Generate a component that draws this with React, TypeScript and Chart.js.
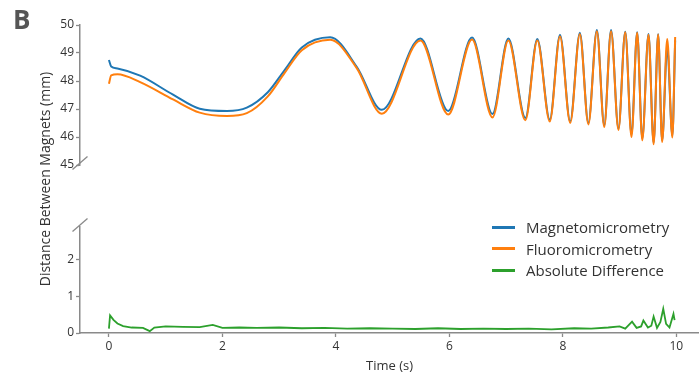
import React, { useEffect, useRef } from "react";
import { Chart, registerables } from "chart.js";

Chart.register(...registerables);

// ---- data ----
const TIME = [
  0, 0.04, 0.15, 0.55, 1.13, 1.6, 2.08, 2.43, 2.8, 3.1, 3.4, 3.9, 4.37, 4.81,
  5.49, 5.98, 6.4, 6.76, 7.04, 7.34, 7.55, 7.77, 7.95, 8.13, 8.3, 8.45, 8.6,
  8.73, 8.85, 8.98, 9.1, 9.21, 9.31, 9.4, 9.51, 9.6, 9.68, 9.75, 9.84, 9.93, 9.98,
];
const MAGNETO = [
  48.75, 48.52, 48.45, 48.19, 47.51, 47.01, 46.93, 47.05, 47.6, 48.4, 49.2,
  49.56, 48.5, 46.97, 49.52, 46.93, 49.55, 46.82, 49.52, 46.68, 49.5, 46.62,
  49.65, 46.56, 49.72, 46.5, 49.82, 46.42, 49.82, 46.3, 49.76, 46.1, 49.74,
  45.95, 49.68, 45.8, 49.67, 45.88, 49.2, 46.05, 49.45,
];
const FLUORO = [
  47.9, 48.2, 48.24, 47.96, 47.34, 46.87, 46.75, 46.85, 47.45, 48.3, 49.1,
  49.47, 48.45, 46.83, 49.45, 46.8, 49.48, 46.7, 49.45, 46.6, 49.45, 46.55,
  49.6, 46.5, 49.68, 46.45, 49.78, 46.36, 49.78, 46.25, 49.74, 46.0, 49.72,
  45.88, 49.65, 45.74, 49.66, 45.82, 49.5, 45.98, 49.57,
];
const DIFF_TIME = [
  0, 0.02, 0.08, 0.15, 0.25, 0.4, 0.6, 0.72, 0.8, 1.0, 1.3, 1.6, 1.83, 2.0,
  2.3, 2.6, 3.0, 3.4, 3.8, 4.2, 4.6, 5.0, 5.4, 5.8, 6.2, 6.6, 7.0, 7.4, 7.8,
  8.2, 8.5, 8.8, 9.0, 9.1, 9.22, 9.3, 9.38, 9.42, 9.5, 9.56, 9.6, 9.66, 9.72,
  9.77, 9.82, 9.88, 9.95, 9.97,
];
const DIFF = [
  0.12, 0.48, 0.36, 0.26, 0.19, 0.15, 0.14, 0.05, 0.15, 0.18, 0.17, 0.16,
  0.22, 0.14, 0.15, 0.14, 0.15, 0.13, 0.14, 0.12, 0.13, 0.12, 0.11, 0.13,
  0.11, 0.12, 0.11, 0.12, 0.1, 0.13, 0.12, 0.15, 0.18, 0.12, 0.31, 0.14,
  0.18, 0.34, 0.15, 0.2, 0.45, 0.14, 0.3, 0.66, 0.25, 0.15, 0.52, 0.35,
];
const X_TICKS = [0, 2, 4, 6, 8, 10];
const TOP_TICKS = [45, 46, 47, 48, 49, 50];
const BOTTOM_TICKS = [0, 1, 2];
const SERIES_NAMES = ["Magnetomicrometry", "Fluoromicrometry", "Absolute Difference"];
const COLORS = ["#1f77b4", "#ff7f0e", "#2ca02c"];
const X_TITLE = "Time (s)";
const Y_TITLE = "Distance Between Magnets (mm)";
const PANEL = "B";

const AXIS = "#8a8a8a";
const TEXT = "#333333";
const FONT = "'Open Sans', 'DejaVu Sans', sans-serif";

const breakMark = (edge: "top" | "bottom", dy: number) => ({
  id: "breakMark" + edge,
  afterDraw(chart: any) {
    const { ctx, chartArea } = chart;
    const x = chartArea.left;
    const y = (edge === "bottom" ? chartArea.bottom : chartArea.top) + dy;
    ctx.save();
    ctx.strokeStyle = AXIS;
    ctx.lineWidth = 1.3;
    ctx.beginPath();
    ctx.moveTo(x - 7.5, y + 6.5);
    ctx.lineTo(x + 7.5, y - 6.5);
    ctx.stroke();
    ctx.restore();
  },
});

const xScale = (show: boolean) => ({
  type: "linear" as const,
  min: -0.51,
  max: 10.4,
  display: show,
  afterBuildTicks: (s: any) => {
    s.ticks = X_TICKS.map((v) => ({ value: v }));
  },
  afterFit: (s: any) => {
    s.height = 44;
  },
  ticks: {
    autoSkip: false,
    maxRotation: 0,
    padding: 2,
    color: TEXT,
    font: { family: FONT, size: 12 },
  },
  grid: { display: true, drawOnChartArea: false, drawTicks: true, tickLength: 4, tickColor: AXIS, tickWidth: 1.3 },
  border: { display: true, color: AXIS, width: 1.5 },
  title: {
    display: true,
    text: X_TITLE,
    color: TEXT,
    font: { family: FONT, size: 13 },
    padding: { top: 0, bottom: 3 },
  },
});

const yScale = (min: number, max: number, ticks: number[]) => ({
  type: "linear" as const,
  min,
  max,
  afterBuildTicks: (s: any) => {
    s.ticks = ticks.map((v) => ({ value: v }));
  },
  afterFit: (s: any) => {
    s.width = 80;
  },
  ticks: { padding: 2, color: TEXT, font: { family: FONT, size: 12 } },
  grid: { display: true, drawOnChartArea: false, drawTicks: true, tickLength: 4, tickColor: AXIS, tickWidth: 1.3 },
  border: { display: true, color: AXIS, width: 1.5 },
});

export default function App() {
  const topRef = useRef<HTMLCanvasElement>(null);
  const botRef = useRef<HTMLCanvasElement>(null);

  useEffect(() => {
    const top = new Chart(topRef.current!, {
      type: "line",
      data: {
        datasets: [
          {
            label: SERIES_NAMES[0],
            data: TIME.map((t, i) => ({ x: t, y: MAGNETO[i] })),
            borderColor: COLORS[0],
            borderWidth: 2,
            pointRadius: 0,
            cubicInterpolationMode: "monotone",
            fill: false,
            order: 1,
          },
          {
            label: SERIES_NAMES[1],
            data: TIME.map((t, i) => ({ x: t, y: FLUORO[i] })),
            borderColor: COLORS[1],
            borderWidth: 2,
            pointRadius: 0,
            cubicInterpolationMode: "monotone",
            fill: false,
            order: 0,
          },
        ],
      },
      options: {
        responsive: false,
        animation: false,
        devicePixelRatio: 1,
        layout: { padding: { top: 25, bottom: 7, left: 0, right: 0 } },
        scales: { x: xScale(false), y: yScale(45, 50, TOP_TICKS) } as any,
        plugins: { legend: { display: false }, tooltip: { enabled: false } },
      },
      plugins: [breakMark("bottom", -2)],
    });

    const bot = new Chart(botRef.current!, {
      type: "line",
      data: {
        datasets: [
          {
            label: SERIES_NAMES[2],
            data: DIFF_TIME.map((t, i) => ({ x: t, y: DIFF[i] })),
            borderColor: COLORS[2],
            borderWidth: 1.8,
            pointRadius: 0,
            fill: false,
          },
        ],
      },
      options: {
        responsive: false,
        animation: false,
        devicePixelRatio: 1,
        layout: { padding: { top: 11, bottom: 0, left: 0, right: 0 } },
        scales: { x: xScale(true), y: yScale(0, 2.9, BOTTOM_TICKS) } as any,
        plugins: { legend: { display: false }, tooltip: { enabled: false } },
      },
      plugins: [breakMark("top", -2)],
    });

    return () => {
      top.destroy();
      bot.destroy();
    };
  }, []);

  const legendTops = [227, 248.5, 270];

  return (
    <div style={{ position: "absolute", left: 0, top: 0, width: 699, height: 377, background: "#fff", overflow: "hidden", fontFamily: FONT }}>
      <canvas ref={topRef} width={699} height={216} style={{ position: "absolute", left: 0, top: 0, width: 699, height: 216 }} />
      <canvas ref={botRef} width={699} height={161} style={{ position: "absolute", left: 0, top: 216, width: 699, height: 161 }} />
      <div style={{ position: "absolute", left: 13, top: 4, fontSize: 26, fontWeight: 700, color: "#555", lineHeight: "30px" }}>{PANEL}</div>
      <div
        style={{
          position: "absolute",
          left: 44,
          top: 179,
          transform: "translate(-50%, -50%) rotate(-90deg)",
          whiteSpace: "nowrap",
          fontSize: 14,
          color: TEXT,
        }}
      >
        {Y_TITLE}
      </div>
      {SERIES_NAMES.map((name, i) => (
        <div
          key={name}
          style={{ position: "absolute", left: 492, top: legendTops[i] - 11, height: 22, display: "flex", alignItems: "center", whiteSpace: "nowrap" }}
        >
          <div style={{ width: 23, height: 3, background: COLORS[i], marginRight: 11 }} />
          <span style={{ fontSize: 15, color: TEXT }}>{name}</span>
        </div>
      ))}
    </div>
  );
}
